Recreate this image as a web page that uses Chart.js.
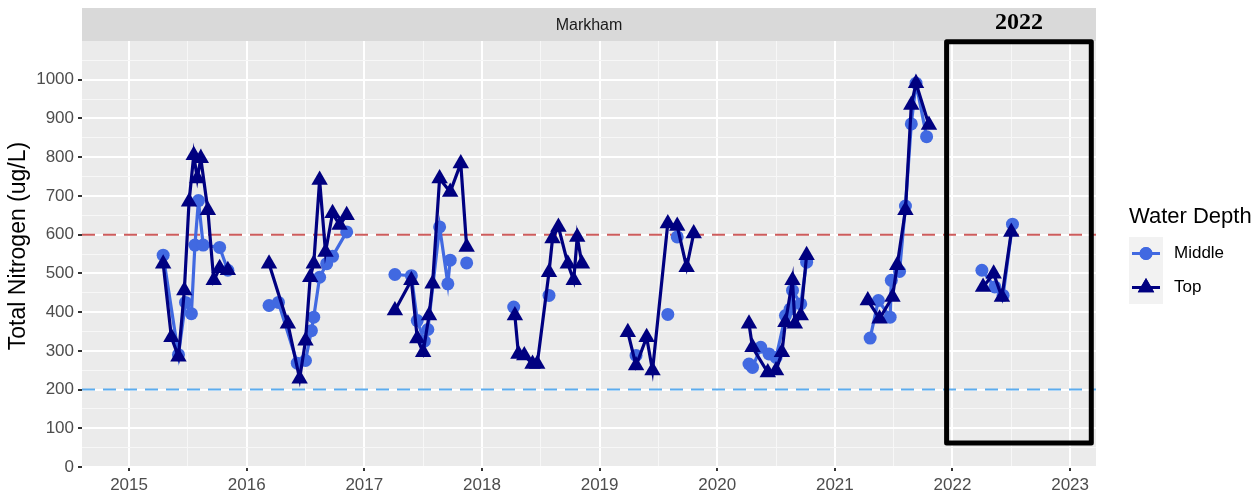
<!DOCTYPE html>
<html>
<head>
<meta charset="utf-8">
<script src="https://cdn.jsdelivr.net/npm/chart.js@4.4.0/dist/chart.umd.min.js"></script>
<style>
  html, body { margin: 0; padding: 0; background: #ffffff; }
  #wrap { width: 1255px; height: 496px; position: relative; }
</style>
</head>
<body>
<div id="wrap"><canvas id="c"></canvas></div>
<script>
// ---- Data (null = break in the line) ----
const topDates = [
  2015.29, 2015.36, 2015.42, 2015.47, 2015.51, 2015.55, 2015.58, 2015.61, 2015.67, 2015.72, 2015.77, 2015.84, null,
  2016.19, 2016.35, 2016.45, 2016.50, 2016.54, 2016.57, 2016.62, 2016.67, 2016.73, 2016.79, 2016.85, null,
  2017.26, 2017.40, 2017.45, 2017.50, 2017.55, 2017.58, 2017.64, 2017.73, 2017.82, 2017.87, null,
  2018.28, 2018.31, 2018.36, 2018.43, 2018.47, 2018.57, 2018.60, 2018.65, 2018.73, 2018.78, 2018.81, 2018.85, null,
  2019.24, 2019.31, 2019.40, 2019.45, 2019.58, 2019.66, 2019.74, 2019.80, null,
  2020.27, 2020.30, 2020.43, 2020.50, 2020.55, 2020.58, 2020.64, 2020.66, 2020.71, 2020.76, null,
  2021.28, 2021.38, 2021.49, 2021.53, 2021.60, 2021.65, 2021.69, 2021.80, null,
  2022.26, 2022.35, 2022.42, 2022.50
];
const topValues = [
  525, 335, 285, 456, 685, 805, 745, 797, 663, 482, 513, 508, null,
  525, 370, 228, 326, 490, 525, 741, 555, 655, 625, 650, null,
  404, 482, 332, 296, 391, 473, 745, 710, 784, 568, null,
  391, 292, 288, 266, 266, 503, 590, 620, 525, 482, 594, 525, null,
  348, 262, 335, 249, 629, 622, 516, 603, null,
  370, 309, 244, 249, 296, 374, 482, 370, 391, 547, null,
  430, 383, 439, 521, 663, 935, 991, 883, null,
  465, 499, 439, 607
];
const middleDates = [
  2015.29, 2015.42, 2015.48, 2015.53, 2015.56, 2015.59, 2015.63, 2015.77, 2015.84, null,
  2016.19, 2016.27, 2016.43, 2016.50, 2016.55, 2016.57, 2016.62, 2016.68, 2016.73, 2016.85, null,
  2017.26, 2017.40, 2017.45, 2017.51, 2017.54, 2017.64, 2017.71, 2017.73, null, 2017.87, null,
  2018.27, null, 2018.57, null,
  2019.31, null, 2019.58, null, 2019.66, null,
  2020.27, 2020.30, 2020.37, 2020.44, 2020.50, 2020.58, 2020.62, 2020.64, 2020.71, 2020.76, null,
  2021.30, 2021.37, 2021.47, 2021.48, 2021.55, 2021.60, 2021.65, 2021.69, 2021.78, null,
  2022.25, 2022.36, 2022.43, 2022.51
];
const middleValues = [
  547, 290, 425, 396, 573, 688, 573, 567, 508, null,
  417, 425, 268, 275, 352, 387, 490, 525, 544, 607, null,
  497, 494, 378, 325, 355, 620, 473, 534, null, 527, null,
  413, null, 443, null,
  288, null, 394, null, 594, null,
  266, 257, 309, 292, 283, 391, 408, 456, 421, 529, null,
  333, 430, 387, 482, 505, 674, 886, 991, 853, null,
  508, 465, 443, 627
];
const upperGuide = 600;   // red dashed reference
const lowerGuide = 200;   // blue dashed reference
const xRange = [2014.60, 2023.22];
const yRange = [0, 1100];
const yearTicks = [2015, 2016, 2017, 2018, 2019, 2020, 2021, 2022, 2023];
const valueTicks = [0, 100, 200, 300, 400, 500, 600, 700, 800, 900, 1000];
const highlightYears = [2021.95, 2023.18];
const highlightValues = [62, 1098];
const highlightLabel = '2022';
const panelLabel = 'Markham';
const seriesNames = ['Middle', 'Top'];

const MID_COLOR = '#4169E1';
const TOP_COLOR = '#000080';
const FONT = "'Liberation Sans', Arial, sans-serif";

function toPoints(dates, values) {
  let last = xRange[0];
  return dates.map((d, i) => {
    if (values[i] === null || d === null) return { x: last, y: null };
    last = d;
    return { x: d, y: values[i] };
  });
}

const minorX = [];
for (let v = 2014.5; v <= 2023.5; v += 0.5) if (v >= xRange[0] && v <= xRange[1]) minorX.push(v);
const minorY = [];
for (let v = 0; v < 1100; v += 50) minorY.push(v);

const isMajorX = v => yearTicks.includes(Math.round(v * 100) / 100);
const isMajorY = v => v % 100 === 0;

const decor = {
  id: 'decor',
  beforeDraw(chart) {
    const { ctx, chartArea: a } = chart;
    ctx.save();
    ctx.fillStyle = '#EBEBEB';
    ctx.fillRect(a.left, a.top, a.right - a.left, a.bottom - a.top);
    // strip
    ctx.fillStyle = '#D9D9D9';
    ctx.fillRect(a.left, 8, a.right - a.left, a.top - 8);
    ctx.fillStyle = '#1A1A1A';
    ctx.font = '16px ' + FONT;
    ctx.textAlign = 'center';
    ctx.textBaseline = 'middle';
    ctx.fillText(panelLabel, (a.left + a.right) / 2, (8 + a.top) / 2 + 1);
    // y axis title
    ctx.save();
    ctx.translate(19, 246);
    ctx.rotate(-Math.PI / 2);
    ctx.fillStyle = '#000000';
    ctx.font = '23px ' + FONT;
    ctx.textAlign = 'center';
    ctx.textBaseline = 'middle';
    ctx.fillText('Total Nitrogen (ug/L)', 0, 0);
    ctx.restore();
    ctx.restore();
  },
  afterDraw(chart) {
    const { ctx } = chart;
    const xs = chart.scales.x, ys = chart.scales.y;
    ctx.save();
    // highlight box
    const x1 = xs.getPixelForValue(highlightYears[0]);
    const x2 = xs.getPixelForValue(highlightYears[1]);
    const y1 = ys.getPixelForValue(highlightValues[1]);
    const y2 = ys.getPixelForValue(highlightValues[0]);
    ctx.strokeStyle = '#000000';
    ctx.lineWidth = 5;
    ctx.lineJoin = 'round';
    ctx.strokeRect(x1, y1, x2 - x1, y2 - y1);
    ctx.fillStyle = '#000000';
    ctx.font = "bold 24px 'Liberation Serif', 'Times New Roman', serif";
    ctx.textAlign = 'center';
    ctx.textBaseline = 'alphabetic';
    ctx.fillText(highlightLabel, (x1 + x2) / 2, 29);

    // legend
    const lx = 1129;
    ctx.font = '22px ' + FONT;
    ctx.textAlign = 'left';
    ctx.fillText('Water Depth', lx, 223);
    ctx.fillStyle = '#F2F2F2';
    ctx.fillRect(lx, 237, 34, 67);
    const keys = [
      { y: 253.5, color: MID_COLOR, style: 'circle', r: 6.5, name: seriesNames[0] },
      { y: 287.5, color: TOP_COLOR, style: 'triangle', r: 9.5, name: seriesNames[1] }
    ];
    keys.forEach(k => {
      ctx.strokeStyle = k.color;
      ctx.lineWidth = 3;
      ctx.beginPath();
      ctx.moveTo(lx + 3, k.y);
      ctx.lineTo(lx + 31, k.y);
      ctx.stroke();
      ctx.fillStyle = k.color;
      Chart.helpers.drawPoint(ctx, { pointStyle: k.style, radius: k.r, borderWidth: 0, rotation: 0 }, lx + 17, k.y);
      ctx.fill();
      ctx.fillStyle = '#000000';
      ctx.font = '17px ' + FONT;
      ctx.textBaseline = 'middle';
      ctx.fillText(k.name, lx + 45, k.y);
    });
    ctx.restore();
  }
};

new Chart(document.getElementById('c'), {
  type: 'line',
  data: {
    datasets: [
      {
        label: seriesNames[1],
        data: toPoints(topDates, topValues),
        borderColor: TOP_COLOR,
        backgroundColor: TOP_COLOR,
        borderWidth: 3.2,
        pointStyle: 'triangle',
        pointRadius: 9.5,
        pointBorderWidth: 0,
        pointBackgroundColor: TOP_COLOR,
        spanGaps: false,
        order: 0
      },
      {
        label: seriesNames[0],
        data: toPoints(middleDates, middleValues),
        borderColor: MID_COLOR,
        backgroundColor: MID_COLOR,
        borderWidth: 3.2,
        pointStyle: 'circle',
        pointRadius: 6.5,
        pointBorderWidth: 0,
        pointBackgroundColor: MID_COLOR,
        spanGaps: false,
        order: 1
      },
      {
        label: 'upper',
        data: [{ x: xRange[0], y: upperGuide }, { x: xRange[1], y: upperGuide }],
        borderColor: '#CD5C5C',
        borderWidth: 2,
        borderDash: [13, 8],
        pointRadius: 0,
        order: 2
      },
      {
        label: 'lower',
        data: [{ x: xRange[0], y: lowerGuide }, { x: xRange[1], y: lowerGuide }],
        borderColor: '#5CACEE',
        borderWidth: 2,
        borderDash: [13, 8],
        pointRadius: 0,
        order: 3
      }
    ]
  },
  options: {
    responsive: true,
    maintainAspectRatio: false,
    animation: false,
    devicePixelRatio: 1,
    layout: { padding: { top: 41, right: 159, left: 0, bottom: 0 } },
    elements: { line: { tension: 0 } },
    plugins: { legend: { display: false }, tooltip: { enabled: false } },
    scales: {
      x: {
        type: 'linear',
        min: xRange[0],
        max: xRange[1],
        afterBuildTicks: s => { s.ticks = minorX.map(v => ({ value: v })); },
        afterFit: s => { s.height = 29; },
        border: { display: false },
        grid: {
          color: c => isMajorX(c.tick.value) ? '#FFFFFF' : '#F7F7F7',
          lineWidth: c => isMajorX(c.tick.value) ? 2 : 1,
          tickColor: c => isMajorX(c.tick.value) ? '#333333' : 'rgba(0,0,0,0)',
          tickLength: 4,
          tickWidth: 2
        },
        ticks: {
          autoSkip: false,
          maxRotation: 0,
          padding: 4,
          color: '#4D4D4D',
          font: { family: FONT, size: 17 },
          callback: v => isMajorX(v) ? String(Math.round(v)) : ''
        }
      },
      y: {
        type: 'linear',
        min: yRange[0],
        max: yRange[1],
        afterBuildTicks: s => { s.ticks = minorY.map(v => ({ value: v })); },
        afterFit: s => { s.width = 82; },
        border: { display: false },
        grid: {
          color: c => isMajorY(c.tick.value) ? '#FFFFFF' : '#F7F7F7',
          lineWidth: c => isMajorY(c.tick.value) ? 2 : 1,
          tickColor: c => isMajorY(c.tick.value) ? '#333333' : 'rgba(0,0,0,0)',
          tickLength: 4,
          tickWidth: 2
        },
        ticks: {
          autoSkip: false,
          padding: 4,
          color: '#4D4D4D',
          font: { family: FONT, size: 17 },
          callback: v => valueTicks.includes(v) ? String(v) : ''
        }
      }
    }
  },
  plugins: [decor]
});
</script>
</body>
</html>
